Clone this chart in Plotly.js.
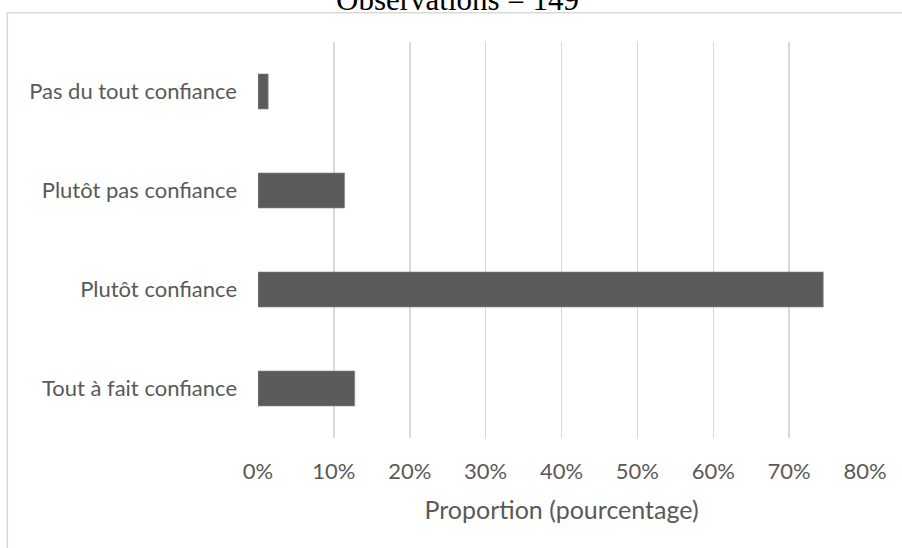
<!DOCTYPE html>
<html>
<head>
<meta charset="utf-8">
<script src="https://cdn.plot.ly/plotly-3.0.1.min.js"></script>
<style>html,body{margin:0;padding:0;background:#fff;}#chart{width:902px;height:548px;}</style>
</head>
<body>
<div id="chart"></div>
<script>
// Data (top to bottom as shown)
const categories = ["Pas du tout confiance", "Plutôt pas confiance", "Plutôt confiance", "Tout à fait confiance"];
const proportions = [1.34, 11.41, 74.50, 12.75];
const xTickValues = [0, 10, 20, 30, 40, 50, 60, 70, 80];
const xTickLabels = ["0%", "10%", "20%", "30%", "40%", "50%", "60%", "70%", "80%"];
const chartTitle = "Observations = 149";
const xTitle = "Proportion (pourcentage)";

const labelFont = {family: "Lato, 'Open Sans', sans-serif", size: 22, color: "#595959"};
const axisTitleFont = {family: "Lato, 'Open Sans', sans-serif", size: 25, color: "#595959"};

const trace = {
  type: "bar",
  orientation: "h",
  x: proportions,
  y: categories,
  marker: {color: "#5b5b5b", line: {color: "#8a8a8a", width: 0.6}},
  hoverinfo: "none"
};

const layout = {
  width: 902,
  height: 548,
  margin: {l: 258, r: 37, t: 42, b: 110},
  paper_bgcolor: "#ffffff",
  plot_bgcolor: "#ffffff",
  showlegend: false,
  bargap: 0.646,
  xaxis: {
    range: [0, 80],
    tickvals: xTickValues,
    ticktext: xTickLabels,
    showgrid: true,
    gridcolor: "#d9d9d9",
    gridwidth: 1.5,
    zeroline: false,
    showline: false,
    ticks: "",
    ticklabelstandoff: 18,
    tickfont: labelFont,
    automargin: false,
    fixedrange: true,
    title: {text: xTitle, font: axisTitleFont, standoff: 18}
  },
  yaxis: {
    autorange: "reversed",
    type: "category",
    showgrid: false,
    zeroline: false,
    showline: false,
    ticks: "",
    ticklabelstandoff: 20,
    tickfont: labelFont,
    automargin: false,
    fixedrange: true
  },
  annotations: [{
    text: chartTitle,
    xref: "paper", yref: "paper",
    x: 0.3283, y: 1.1085,
    xanchor: "center", yanchor: "middle",
    showarrow: false,
    font: {family: "'Liberation Serif', 'Times New Roman', serif", size: 31, color: "#000000"}
  }],
  shapes: [{
    type: "rect",
    xref: "paper", yref: "paper",
    x0: -0.413, x1: 1.3, y0: -0.6, y1: 1.074,
    line: {color: "#d9d9d9", width: 1.5},
    fillcolor: "rgba(0,0,0,0)",
    layer: "below"
  }]
};

Plotly.newPlot("chart", [trace], layout, {displayModeBar: false, staticPlot: true});
</script>
</body>
</html>
